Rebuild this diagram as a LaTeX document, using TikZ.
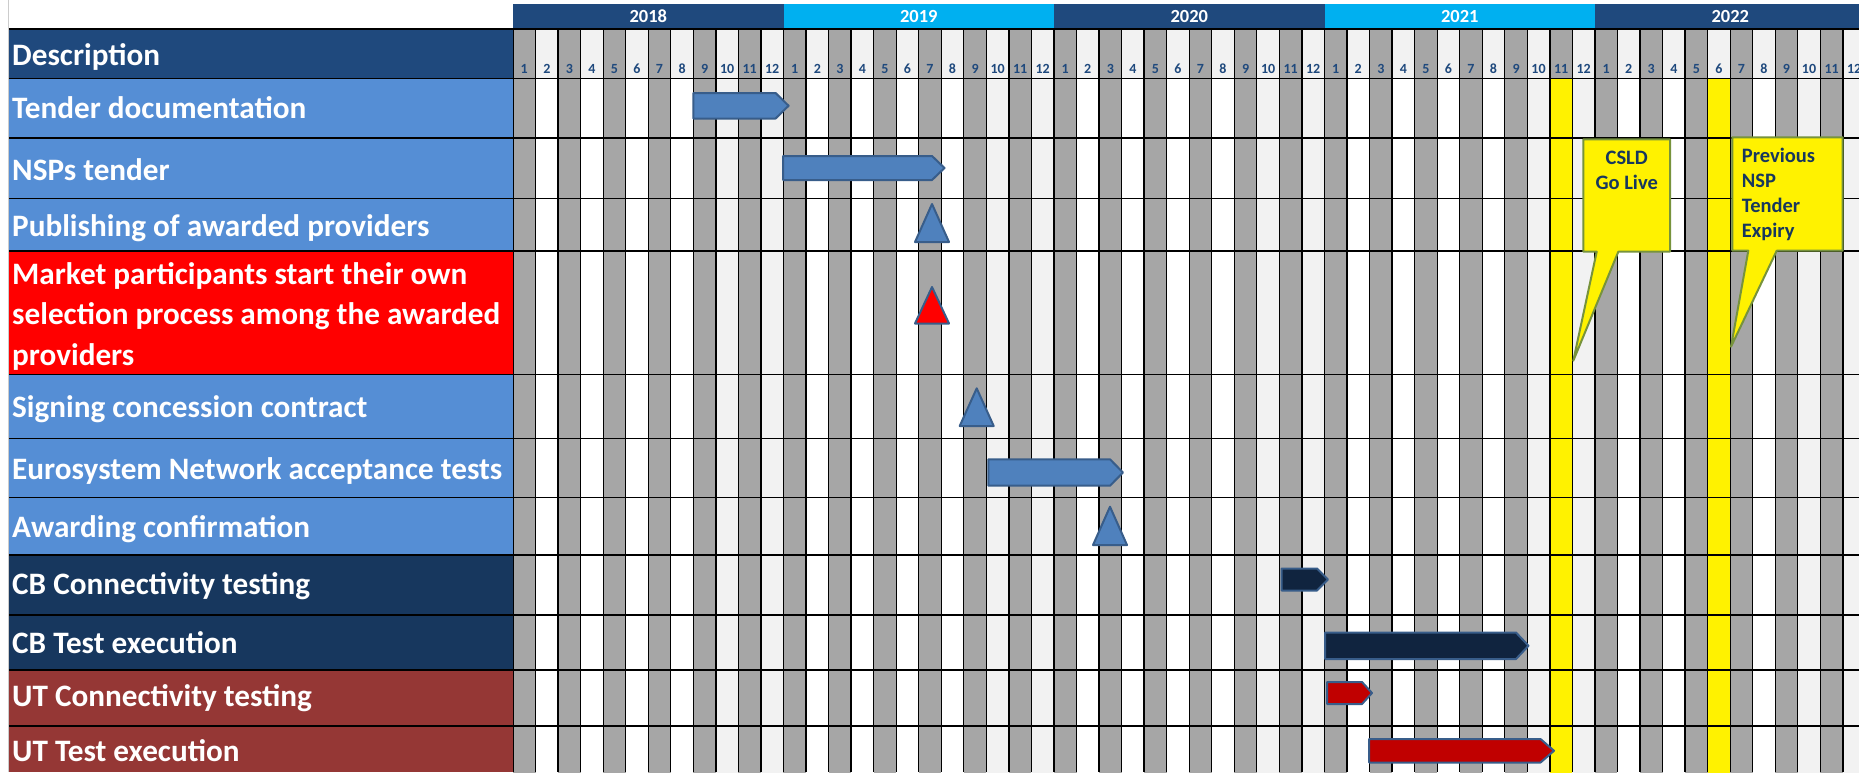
\documentclass[tikz,border=0pt]{standalone}
\usepackage{fontspec}
\setmainfont{Carlito}
\usetikzlibrary{positioning}
\definecolor{hdrblue}{HTML}{1F497D}
\definecolor{yearcyan}{HTML}{00B0F0}
\definecolor{rowblue}{HTML}{558ED5}
\definecolor{rownavy}{HTML}{17375E}
\definecolor{rowred}{HTML}{FF0000}
\definecolor{rowbrown}{HTML}{953735}
\definecolor{oddgray}{HTML}{A6A6A6}
\definecolor{evengray}{HTML}{F2F2F2}
\definecolor{barblue}{HTML}{4F81BD}
\definecolor{barline}{HTML}{385D8A}
\definecolor{barnavy}{HTML}{10243F}
\definecolor{barred}{HTML}{C00000}
\definecolor{calloutline}{HTML}{77933C}
\definecolor{callouttext}{HTML}{17375E}

\tikzset{
  rowlbl/.style={anchor=base west,text=white,inner sep=0pt,font=\bfseries\fontsize{31.2}{40.5}\selectfont},
  monthno/.style={text=hdrblue,inner sep=0pt,font=\bfseries\fontsize{14}{14}\selectfont},
  yearno/.style={text=white,inner sep=0pt,font=\bfseries\fontsize{18.5}{18.5}\selectfont},
  barstyle/.style={draw=barline,line width=2pt,line join=round},
  callout/.style={fill=yellow,draw=calloutline,line width=2pt,line join=round},
  callouttxt/.style={text=callouttext,inner sep=0pt,font=\bfseries\fontsize{20.5}{25}\selectfont}
}

% x0, body end, tip, top, bottom, colour
\newcommand{\ganttbar}[6]{%
  \pgfmathsetmacro{\ymid}{(#4+#5)/2}
  \filldraw[barstyle,fill=#6] (#1,#4) -- (#2,#4) -- (#3,\ymid) -- (#2,#5) -- (#1,#5) -- cycle;}
% centre, apex, base, colour
\newcommand{\milestone}[4]{%
  \filldraw[barstyle,fill=#4] (#1,#2) -- ({#1+17},#3) -- ({#1-17},#3) -- cycle;}

\begin{document}
\begin{tikzpicture}[x=1pt,y=-1pt]
  \useasboundingbox (0,0) rectangle (1859,772);
  \clip (0,0) rectangle (1859,772);
  \fill[white] (0,0) rectangle (1859,772);

  % month columns
  \foreach \i in {0,...,59} {
    \pgfmathsetmacro{\xl}{513+\i*22.54}
    \pgfmathtruncatemacro{\m}{mod(\i,12)+1}
    \pgfmathtruncatemacro{\odd}{mod(\m,2)}
    \ifnum\odd=1 \def\hc{oddgray}\def\dc{oddgray}\else\def\hc{evengray}\ifnum\m>9 \def\dc{evengray}\else\def\dc{white}\fi\fi
    \ifnum\i=46 \def\dc{yellow}\fi
    \ifnum\i=53 \def\dc{yellow}\fi
    \fill[\hc] (\xl,28.5) rectangle ++(22.54,50);
    \fill[\dc] (\xl,78.5) rectangle ++(22.54,700);
    \node[monthno] (m\i) at (\xl+11.27,69) {\m};
  }
  \foreach \i in {0,...,60} {\draw[line width=1.3pt] (513+\i*22.54,28.5) -- (513+\i*22.54,772);}
  \draw[line width=2pt] (513,28.5) -- (513,772);

  % years
  \foreach \yr/\c [count=\k from 0] in {2018/hdrblue,2019/yearcyan,2020/hdrblue,2021/yearcyan,2022/hdrblue} {
    \fill[\c] (513+\k*270.5,4) rectangle ++(270.5,24.5);
    \node[yearno] (y\yr) at (513+\k*270.5+135.25,16.5) {\yr};
  }

  % label column
  \draw[black!20] (8,0) -- (8,772);
  \fill[hdrblue] (9,28.5) rectangle (513,78.5);
  \fill[rowblue] (9,78.5) rectangle (513,251);
  \fill[rowred] (9,251) rectangle (513,374.5);
  \fill[rowblue] (9,374.5) rectangle (513,555);
  \fill[rownavy] (9,555) rectangle (513,670);
  \fill[rowbrown] (9,670) rectangle (513,772);
  \draw[line width=2pt] (9,28.5) -- (1859,28.5);
  \foreach \yy in {78.5,138,198.3,251,374.5,438.3,497.7,555,615,670,726} {\draw[line width=1.3pt] (9,\yy) -- (1859,\yy);}

  \node[rowlbl] (desc) at (12,65) {Description};
  \node[rowlbl] (tdoc) at (12,118.3) {Tender documentation};
  \node[rowlbl] (nsp) at (12,180) {NSPs tender};
  \node[rowlbl] (pub) at (12,236) {Publishing of awarded providers};
  \node[rowlbl,align=left] (mkt) at (12,365) {Market participants start their own\\selection process among the awarded\\providers};
  \node[rowlbl] (sign) at (12,417.5) {Signing concession contract};
  \node[rowlbl] (esn) at (12,479) {Eurosystem Network acceptance tests};
  \node[rowlbl] (award) at (12,537.5) {Awarding confirmation};
  \node[rowlbl] (cbconn) at (12,594) {CB Connectivity testing};
  \node[rowlbl] (cbtest) at (12,653.3) {CB Test execution};
  \node[rowlbl] (utconn) at (12,706.7) {UT Connectivity testing};
  \node[rowlbl] (uttest) at (12,761.7) {UT Test execution};

  % bars and milestones
  \ganttbar{693.3}{775.6}{788.6}{93}{118.5}{barblue}
  \ganttbar{783}{932}{944.5}{156}{180}{barblue}
  \milestone{932}{204}{242}{barblue}
  \milestone{932}{287}{323.5}{rowred}
  \milestone{976.7}{388.3}{426}{barblue}
  \ganttbar{988.3}{1110}{1123}{459.3}{485.7}{barblue}
  \milestone{1110}{506.7}{545}{barblue}
  \ganttbar{1281.5}{1317}{1328}{568.5}{590.5}{barnavy}
  \ganttbar{1325}{1516}{1528.5}{632.5}{659}{barnavy}
  \ganttbar{1327}{1362}{1372}{682}{704}{barred}
  \ganttbar{1369}{1540.5}{1554}{739}{762.5}{barred}

  % callouts
  \filldraw[callout] (1583.3,139.3) -- (1670,139.3) -- (1670,251.7) -- (1618.3,251.7) -- (1573.3,360.7) -- (1596.7,251.7) -- (1583.3,251.7) -- cycle;
  \node[callouttxt,align=center,anchor=north] (golive) at (1626.7,150.5) {CSLD\\Go Live};
  \filldraw[callout] (1732.3,137.3) -- (1842.7,137.3) -- (1842.7,250.7) -- (1776.7,250.7) -- (1731,346.7) -- (1748.3,250.7) -- (1732.3,250.7) -- cycle;
  \node[callouttxt,align=left,anchor=north west] (expiry) at (1741.7,148.3) {Previous\\NSP\\Tender\\Expiry};
\end{tikzpicture}
\end{document}
